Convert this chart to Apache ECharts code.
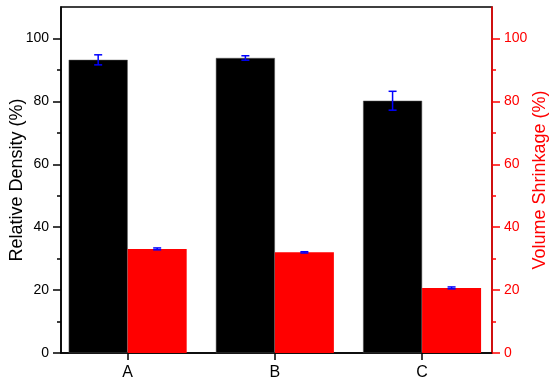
<!DOCTYPE html>
<html><head><meta charset="utf-8">
<script src="https://cdn.jsdelivr.net/npm/echarts@6/dist/echarts.min.js"></script>
<style>html,body{margin:0;padding:0;background:#fff}#c{width:550px;height:384px}</style>
</head><body><div id="c"></div>
<script>
const categories = ['A', 'B', 'C'];
const categoryPos = [1, 2, 3];
const density = [93.2, 93.8, 80.2];
const densityErr = [1.6, 0.7, 3.0];
const shrinkage = [33.1, 32.0, 20.7];
const shrinkageErr = [0.3, 0.2, 0.3];
const yTicks = [0, 20, 40, 60, 80, 100];

const BW = 59;
const chart = echarts.init(document.getElementById('c'), null, {renderer: 'canvas'});
function errSeries(vals, errs, yIdx, off) {
  return {
    type: 'custom', yAxisIndex: yIdx, z: 5,
    data: vals.map((v, i) => [categoryPos[i], v, errs[i]]),
    renderItem: function (params, api) {
      const x = api.value(0), y = api.value(1), e = api.value(2);
      const hi = api.coord([x, y + e]), lo = api.coord([x, y - e]);
      const cx = hi[0] + off, hw = 4;
      const st = {stroke: '#0000ff', lineWidth: 1.5};
      return {type: 'group', children: [
        {type: 'line', shape: {x1: cx, y1: hi[1], x2: cx, y2: lo[1]}, style: st},
        {type: 'line', shape: {x1: cx - hw, y1: hi[1], x2: cx + hw, y2: hi[1]}, style: st},
        {type: 'line', shape: {x1: cx - hw, y1: lo[1], x2: cx + hw, y2: lo[1]}, style: st}
      ]};
    }
  };
}
const font = 'Liberation Sans, Arial, sans-serif';
chart.setOption({
  animation: false,
  grid: {left: 61, right: 58, top: 7, bottom: 31, containLabel: false, outerBoundsMode: 'none', show: true, borderColor: '#000', borderWidth: 1.5, backgroundColor: 'transparent'},
  xAxis: {
    type: 'value', min: 0.547, max: 3.475,
    splitLine: {show: false},
    axisLine: {show: true, lineStyle: {color: '#000', width: 1.5}},
    axisTick: {show: true, inside: false, length: 7, lineStyle: {color: '#000', width: 1.5}, customValues: categoryPos},
    axisLabel: {customValues: categoryPos, formatter: v => categories[categoryPos.indexOf(Math.round(v))] || '', color: '#000', fontSize: 16, fontFamily: font, margin: 12}
  },
  yAxis: [
    {type: 'value', min: 0, max: 110, position: 'left',
     splitLine: {show: false},
     axisLine: {show: true, lineStyle: {color: '#000', width: 1.5}},
     axisTick: {show: true, inside: false, length: 8, customValues: yTicks, lineStyle: {color: '#000', width: 1.5}},
     minorTick: {show: true, splitNumber: 2, length: 4, lineStyle: {color: '#000', width: 1.5}},
     axisLabel: {customValues: yTicks, color: '#000', fontSize: 14, fontFamily: font, margin: 12},
     name: 'Relative Density (%)', nameLocation: 'middle', nameGap: 35, nameRotate: 90, nameMoveOverlap: false,
     nameTextStyle: {color: '#000', fontSize: 18, fontFamily: font}},
    {type: 'value', min: 0, max: 110, position: 'right',
     splitLine: {show: false},
     axisLine: {show: true, lineStyle: {color: '#ff0000', width: 1.5}},
     axisTick: {show: true, inside: false, length: 8, customValues: yTicks, lineStyle: {color: '#ff0000', width: 1.5}},
     minorTick: {show: true, splitNumber: 2, length: 4, lineStyle: {color: '#ff0000', width: 1.5}},
     axisLabel: {customValues: yTicks, color: '#ff0000', fontSize: 14, fontFamily: font, margin: 12},
     name: 'Volume Shrinkage (%)', nameLocation: 'middle', nameGap: 39, nameRotate: 90, nameMoveOverlap: false,
     nameTextStyle: {color: '#ff0000', fontSize: 18, fontFamily: font}}
  ],
  series: [
    {type: 'bar', yAxisIndex: 0, barWidth: BW, barGap: '0%', data: density.map((v, i) => [categoryPos[i], v]),
     itemStyle: {color: '#000', borderColor: '#555', borderWidth: 0.5}},
    {type: 'bar', yAxisIndex: 1, barWidth: BW, barGap: '0%', data: shrinkage.map((v, i) => [categoryPos[i], v]),
     itemStyle: {color: '#ff0000'}},
    errSeries(density, densityErr, 0, -BW / 2),
    errSeries(shrinkage, shrinkageErr, 1, BW / 2)
  ]
});
</script></body></html>
